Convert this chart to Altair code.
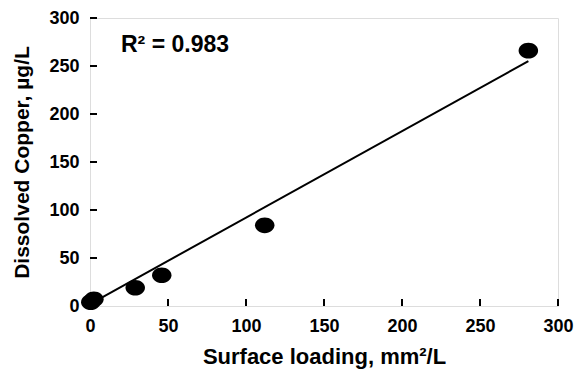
import altair as alt
import pandas as pd

# Observed data points
surface_loading = [0.5, 2.5, 29, 46, 112, 281]
dissolved_cu = [4, 7, 19, 32, 84, 266]

# Regression line end points
fit_x = [0, 281]
fit_y = [2, 255]

x_ticks = [0, 50, 100, 150, 200, 250, 300]
y_ticks = [0, 50, 100, 150, 200, 250, 300]

annotation = "R² = 0.983"
x_title = "Surface loading, mm²/L"
y_title = "Dissolved Copper, µg/L"

W, H = 468, 288
FONT = "Liberation Sans, Arial, sans-serif"

pts = pd.DataFrame({"x": surface_loading, "y": dissolved_cu})
fit = pd.DataFrame({"x": fit_x, "y": fit_y})
xt = pd.DataFrame({"v": x_ticks})
yt = pd.DataFrame({"v": y_ticks})

xscale = alt.Scale(domain=[0, 300], nice=False)
yscale = alt.Scale(domain=[0, 300], nice=False)

xaxis = alt.Axis(values=x_ticks, title=x_title, ticks=False, domain=False, grid=False,
                 labelFont=FONT, labelFontSize=18, labelFontWeight="bold", labelColor="black",
                 labelPadding=11, titleFont=FONT, titleFontSize=22, titleFontWeight="bold",
                 titleColor="black", titlePadding=11, labelFlush=False)
yaxis = alt.Axis(values=y_ticks, title=y_title, ticks=False, domain=False, grid=False,
                 labelFont=FONT, labelFontSize=18, labelFontWeight="bold", labelColor="black",
                 labelPadding=11, titleFont=FONT, titleFontSize=21, titleFontWeight="bold",
                 titleColor="black", titlePadding=16, labelFlush=False)

ellipse = "M-1,0 A1,0.8 0 1,0 1,0 A1,0.8 0 1,0 -1,0 Z"

points = alt.Chart(pts).mark_point(filled=True, shape=ellipse, size=380, color="black", opacity=1).encode(
    x=alt.X("x:Q", scale=xscale, axis=xaxis),
    y=alt.Y("y:Q", scale=yscale, axis=yaxis),
)

line = alt.Chart(fit).mark_line(color="black", strokeWidth=2).encode(
    x=alt.X("x:Q", scale=xscale),
    y=alt.Y("y:Q", scale=yscale),
)

xticks = alt.Chart(xt).mark_rule(color="black", strokeWidth=2).encode(
    x=alt.X("v:Q", scale=xscale),
    y=alt.value(H),
    y2=alt.value(H - 7),
)

yticks = alt.Chart(yt).mark_rule(color="black", strokeWidth=2).encode(
    y=alt.Y("v:Q", scale=yscale),
    x=alt.value(0),
    x2=alt.value(7),
)

text = alt.Chart(pd.DataFrame({"t": [annotation]})).mark_text(
    font=FONT, fontSize=23, fontWeight="bold", color="black", align="left", baseline="middle"
).encode(text="t:N", x=alt.value(31), y=alt.value(27))

chart = alt.layer(xticks, yticks, line, points, text).properties(
    width=W, height=H,
    autosize=alt.AutoSizeParams(type="none"),
    padding={"left": 82, "top": 10, "right": 17, "bottom": 69},
).configure_view(stroke="black", strokeWidth=2).configure(background="white")

chart.save("out.html", embed_options={"renderer": "svg", "actions": False})
